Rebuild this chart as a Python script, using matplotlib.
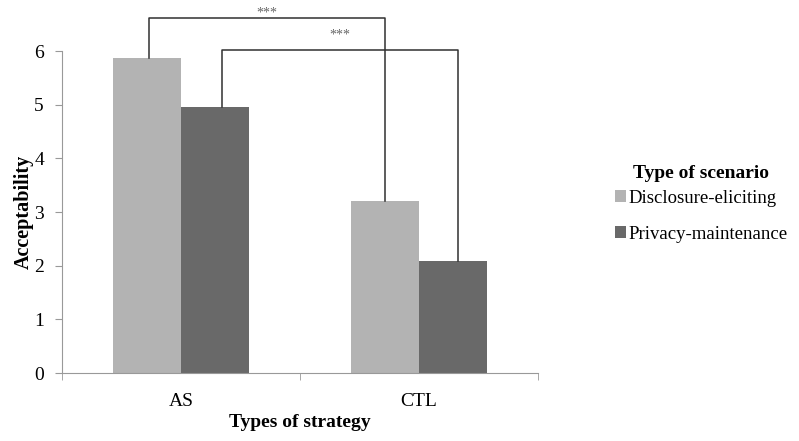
import numpy as np
import matplotlib
matplotlib.use("Agg")
from matplotlib import pyplot as plt

plt.rcParams['font.family'] = ['Liberation Serif', 'DejaVu Serif']

categories = ['AS', 'CTL']
disclosure = [5.88, 3.20]
privacy = [4.96, 2.09]
series_names = ['Disclosure-eliciting', 'Privacy-maintenance']
colors = ['#b3b3b3', '#696969']

fig = plt.figure(figsize=(7.99, 4.41), dpi=100)
ax = fig.add_axes([0.0776, 0.154, 0.596, 0.730])

x = np.arange(len(categories))
w = 0.286
ax.bar(x - w / 2, disclosure, w, color=colors[0], label=series_names[0])
ax.bar(x + w / 2, privacy, w, color=colors[1], label=series_names[1])

ax.set_xlim(-0.5, 1.5)
ax.set_ylim(0, 6)
ax.set_yticks(range(7))
ax.set_xticks(x)
ax.set_xticklabels(categories, fontsize=14)
ax.set_xticks([-0.5, 0.5, 1.5], minor=True)
ax.tick_params(axis='x', which='major', length=0, pad=14)
ax.tick_params(axis='x', which='minor', length=5, color='#999999', direction='out')
ax.tick_params(axis='y', length=5, color='#999999', labelsize=14, pad=8)
for s in ['top', 'right']:
    ax.spines[s].set_visible(False)
for s in ['left', 'bottom']:
    ax.spines[s].set_color('#999999')
ax.set_ylabel('Acceptability', fontsize=14.5, fontweight='bold', labelpad=0)
ax.set_xlabel('Types of strategy', fontsize=14, fontweight='bold', labelpad=3)

# significance brackets
def bracket(x1, y1, x2, y2, top, star_y):
    ax.plot([x1, x1, x2, x2], [y1, top, top, y2], color='#303030', lw=1.1, clip_on=False)
    ax.text((x1 + x2) / 2, star_y, '***', ha='center', va='center', fontsize=10, color='#666666')

bracket(x[0] - w / 2 + 0.01, disclosure[0], x[1] - w / 2, disclosure[1], 6.61, 6.71)
bracket(x[0] + w / 2 + 0.03, privacy[0], x[1] + w / 2 + 0.02, privacy[1], 6.02, 6.30)

leg = ax.legend(loc='upper left', bbox_to_anchor=(1.125, 0.70), frameon=False,
                title='Type of scenario', fontsize=13.5, handlelength=0.6,
                handleheight=0.6, handletextpad=0.15, labelspacing=1.0)
leg.get_title().set_fontweight('bold')
leg.get_title().set_fontsize(14)
leg._legend_box.sep = 6

plt.savefig('out.png', dpi=100)
